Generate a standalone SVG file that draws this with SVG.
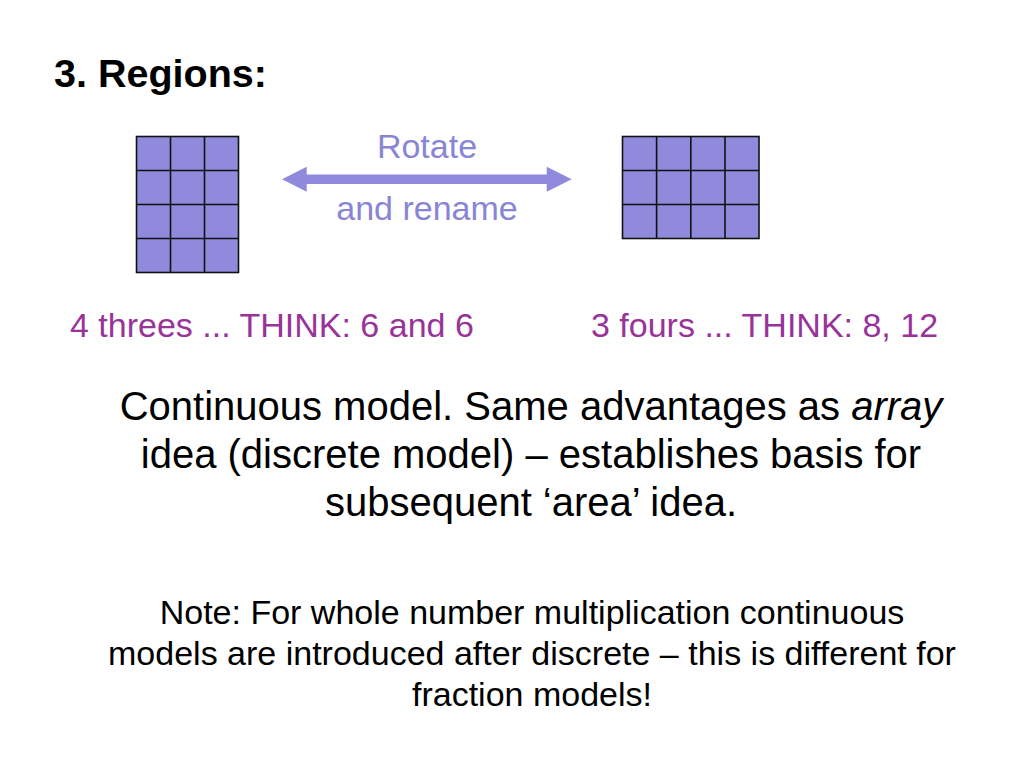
<svg xmlns="http://www.w3.org/2000/svg" width="1024" height="768" viewBox="0 0 1024 768">
<style>
text{font-family:"Liberation Sans",Arial,sans-serif}
.title{font-size:39.5px;font-weight:bold;fill:#000}
.lav{font-size:34px;fill:#8985D6}
.pur{font-size:34px;fill:#993399}
.body{font-size:40px;fill:#000;text-anchor:middle}
.note{font-size:34px;fill:#000;text-anchor:middle}
.cell{fill:#8F8ADB;stroke:#111;stroke-width:1.6}
.grid{fill:none;stroke:#111;stroke-width:1.6}
</style>
<rect width="1024" height="768" fill="#fff"/>
<text class="title" x="54" y="87">3. Regions:</text>

<g id="grid-left">
<rect class="cell" x="136.5" y="136.5" width="102" height="136"/>
<path class="grid" d="M170.5,136.5V272.5M204.5,136.5V272.5M136.5,170.5H238.5M136.5,204.5H238.5M136.5,238.5H238.5"/>
</g>

<g id="grid-right">
<rect class="cell" x="622.5" y="136.5" width="136.5" height="102"/>
<path class="grid" d="M656.6,136.5V238.5M690.8,136.5V238.5M725,136.5V238.5M622.5,170.5H759M622.5,204.5H759"/>
</g>

<g id="connectors">
<path d="M282,179.3L306.7,166.8V174.6H546.7V166.8L571.7,179.3L546.7,191.8V184H306.7V191.8Z" fill="#8F8ADB"/>
</g>

<g id="labels">
<text class="lav" x="427" y="158" text-anchor="middle">Rotate</text>
<text class="lav" x="427" y="220" text-anchor="middle">and rename</text>
<text class="pur" x="70" y="337">4 threes ... THINK: 6 and 6</text>
<text class="pur" x="591" y="337">3 fours ... THINK: 8, 12</text>
</g>

<g id="body">
<text class="body" x="531" y="420">Continuous model. Same advantages as <tspan font-style="italic">array</tspan></text>
<text class="body" x="531" y="468">idea (discrete model) – establishes basis for</text>
<text class="body" x="531" y="516">subsequent ‘area’ idea.</text>
</g>

<g id="note">
<text class="note" x="532" y="624">Note: For whole number multiplication continuous</text>
<text class="note" x="532" y="665">models are introduced after discrete – this is different for</text>
<text class="note" x="532" y="706">fraction models!</text>
</g>
</svg>
